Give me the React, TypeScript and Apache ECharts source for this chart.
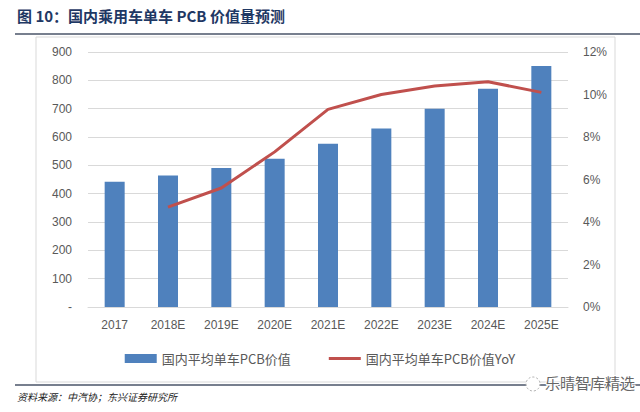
import React, { useEffect, useRef } from "react";
import * as echarts from "echarts";

const categories = ["2017", "2018E", "2019E", "2020E", "2021E", "2022E", "2023E", "2024E", "2025E"];
const pcbValue = [442, 464, 491, 523, 576, 630, 700, 770, 851];
const pcbYoY = [null, 0.047, 0.056, 0.073, 0.093, 0.1, 0.104, 0.106, 0.101];
const seriesNames = ["国内平均单车PCB价值", "国内平均单车PCB价值YoY"];
const titleText = "图 10：国内乘用车单车 PCB 价值量预测";
const sourceText = "资料来源：中汽协；东兴证券研究所";
const watermarkText = "乐晴智库精选";

export default function App() {
  const ref = useRef<HTMLDivElement>(null);
  useEffect(() => {
    if (!ref.current) return;
    const chart = echarts.init(ref.current, null, { renderer: "svg" });
    const labelFont = "Liberation Sans, Noto Sans CJK SC, sans-serif";
    const lineIcon =
      "path://M0,0 L0.05,0 L0.05,0.05 Z M0,3 L32,3 L32,6 L0,6 Z M31.95,8.95 L32,8.95 L32,9 Z";
    chart.setOption({
      animation: false,
      backgroundColor: "#ffffff",
      grid: { left: 88, right: 72, top: 52, bottom: 105 },
      graphic: [
        { type: "text", left: 17, top: 8, style: { text: titleText, fill: "#1f3864", font: "bold 15px 'Noto Sans CJK SC', sans-serif" } },
        { type: "line", shape: { x1: 15, y1: 34, x2: 640, y2: 34 }, style: { stroke: "#4a5568", lineWidth: 1.5 } },
        { type: "rect", shape: { x: 36, y: 37, width: 579, height: 345 }, style: { fill: "none", stroke: "#d9d9d9", lineWidth: 1 } },
        { type: "line", shape: { x1: 15, y1: 385, x2: 640, y2: 385 }, style: { stroke: "#4a5568", lineWidth: 1.5 } },
        { type: "text", left: 17, top: 391, style: { text: sourceText, fill: "#222", font: "italic 10px 'Noto Sans CJK SC', sans-serif" } },
        { type: "circle", shape: { cx: 533, cy: 384, r: 7 }, style: { fill: "#ffffff", stroke: "#aaa", lineWidth: 1, lineDash: [2, 2] } },
        { type: "text", left: 544, top: 374, style: { text: watermarkText, fill: "#666", stroke: "#ffffff", lineWidth: 2, font: "15px 'Noto Sans CJK SC', sans-serif" } },
      ],
      legend: {
        bottom: 42,
        left: "center",
        itemGap: 38,
        itemWidth: 32,
        itemHeight: 9,
        textStyle: { color: "#595959", fontSize: 13, fontFamily: "Noto Sans CJK SC, sans-serif" },
        data: [
          { name: seriesNames[0], icon: "rect" },
          { name: seriesNames[1], icon: lineIcon, itemStyle: { color: "#c0504d", borderWidth: 0 } },
        ],
      },
      xAxis: {
        type: "category",
        data: categories,
        axisLine: { lineStyle: { color: "#d9d9d9" } },
        axisTick: { show: false },
        axisLabel: { color: "#595959", fontSize: 12, fontFamily: labelFont, margin: 12 },
      },
      yAxis: [
        {
          type: "value",
          min: 0,
          max: 900,
          interval: 100,
          axisLine: { show: false },
          axisTick: { show: false },
          splitLine: { lineStyle: { color: "#d9d9d9" } },
          axisLabel: {
            color: "#595959",
            fontSize: 12,
            fontFamily: labelFont,
            margin: 16,
            formatter: (v: number) => (v === 0 ? "-" : String(v)),
          },
        },
        {
          type: "value",
          min: 0,
          max: 0.12,
          interval: 0.02,
          axisLine: { show: false },
          axisTick: { show: false },
          splitLine: { show: false },
          axisLabel: {
            color: "#595959",
            fontSize: 12,
            fontFamily: labelFont,
            margin: 15,
            formatter: (v: number) => Math.round(v * 100) + "%",
          },
        },
      ],
      series: [
        {
          name: seriesNames[0],
          type: "bar",
          data: pcbValue,
          barWidth: 20,
          itemStyle: { color: "#4f81bd" },
        },
        {
          name: seriesNames[1],
          type: "line",
          yAxisIndex: 1,
          data: pcbYoY,
          showSymbol: false,
          symbol: "none",
          lineStyle: { color: "#c0504d", width: 3 },
          itemStyle: { color: "#c0504d" },
        },
      ],
    });
    return () => chart.dispose();
  }, []);
  return <div ref={ref} style={{ position: "fixed", left: 0, top: 0, width: 640, height: 412 }} />;
}
